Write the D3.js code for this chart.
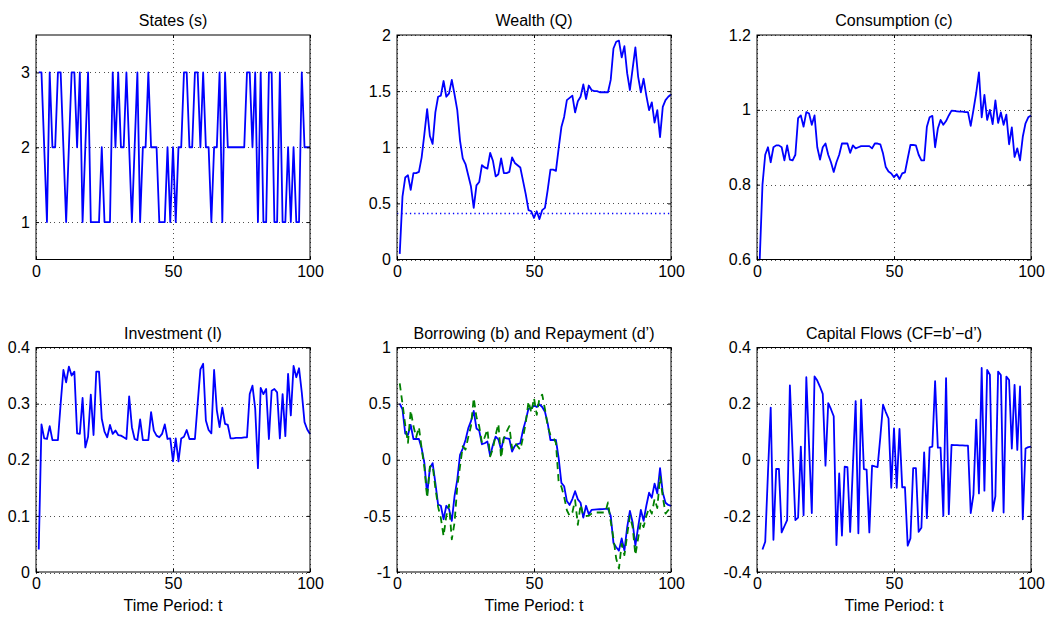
<!DOCTYPE html>
<html>
<head>
<meta charset="utf-8">
<script src="https://cdn.jsdelivr.net/npm/d3@7"></script>
<style>
  body { margin: 0; background: #fff; }
  svg { font-family: "Liberation Sans", Arial, sans-serif; }
</style>
</head>
<body>
<svg id="chart" width="1052" height="621"></svg>
<script>
// periods t = 1..100
const PERIODS = d3.range(1, 101);

const STATES = [
  3, 3, 2, 1, 3, 2, 2, 3, 3, 2, 1, 2, 3, 3, 2, 3, 1, 2, 3, 1,
  1, 1, 1, 2, 1, 1, 1, 3, 2, 3, 2, 2, 3, 2, 1, 2, 3, 1, 2, 2,
  3, 2, 2, 2, 1, 1, 1, 2, 1, 2, 1, 2, 2, 3, 3, 2, 2, 3, 3, 2,
  3, 2, 2, 1, 2, 2, 3, 1, 3, 2, 2, 2, 2, 2, 2, 2, 3, 3, 2, 3,
  1, 3, 1, 1, 3, 3, 1, 1, 3, 1, 1, 2, 1, 2, 1, 1, 3, 2, 2, 2,
];

const WEALTH = [
  0.05, 0.56, 0.73, 0.75, 0.62, 0.77, 0.77, 0.78, 0.91, 1.12,
  1.34, 1.1, 1.03, 1.31, 1.45, 1.46, 1.59, 1.45, 1.48, 1.6,
  1.47, 1.33, 1.06, 0.9, 0.85, 0.75, 0.65, 0.46, 0.66, 0.69,
  0.84, 0.82, 0.81, 0.95, 0.88, 0.74, 0.76, 0.9, 0.77, 0.77,
  0.78, 0.91, 0.86, 0.84, 0.82, 0.7, 0.58, 0.44, 0.43, 0.37,
  0.43, 0.36, 0.44, 0.46, 0.62, 0.8, 0.8, 0.79, 0.99, 1.18,
  1.27, 1.42, 1.44, 1.46, 1.31, 1.41, 1.45, 1.56, 1.43, 1.55,
  1.51, 1.5, 1.5, 1.49, 1.49, 1.49, 1.49, 1.6, 1.88, 1.94,
  1.95, 1.8, 1.9, 1.66, 1.51, 1.7, 1.89, 1.63, 1.49, 1.61,
  1.46, 1.33, 1.4, 1.22, 1.33, 1.09, 1.36, 1.42, 1.45, 1.47,
];
const WEALTH_LEVEL = 0.415;

const CONSUMPTION = [
  0.6, 0.8, 0.88, 0.9, 0.86, 0.9, 0.905, 0.905, 0.9, 0.865,
  0.905, 0.867, 0.865, 0.88, 0.978, 0.985, 0.955, 0.994, 0.99, 0.96,
  0.985, 0.9, 0.867, 0.9, 0.91, 0.88, 0.86, 0.834, 0.86, 0.88,
  0.91, 0.91, 0.91, 0.885, 0.905, 0.897, 0.9, 0.903, 0.903, 0.903,
  0.903, 0.897, 0.91, 0.91, 0.908, 0.883, 0.847, 0.835, 0.83, 0.82,
  0.828, 0.815, 0.83, 0.833, 0.87, 0.906, 0.906, 0.905, 0.88, 0.865,
  0.865, 0.955, 0.98, 0.984, 0.9, 0.95, 0.973, 0.96, 0.97, 0.985,
  0.998, 0.997, 0.996, 0.995, 0.995, 0.994, 0.994, 0.957, 1.0, 1.045,
  1.1, 0.98, 1.04, 0.973, 1.0, 0.962, 1.025, 0.965, 0.993, 0.96,
  0.987, 0.908, 0.953, 0.874, 0.897, 0.865, 0.928, 0.964, 0.98, 0.985,
];

const INVESTMENT = [
  0.04, 0.263, 0.238, 0.237, 0.26, 0.235, 0.235, 0.235, 0.3, 0.36,
  0.338, 0.366, 0.35, 0.357, 0.247, 0.246, 0.31, 0.222, 0.241, 0.316,
  0.244, 0.357, 0.357, 0.273, 0.25, 0.24, 0.262, 0.246, 0.252, 0.244,
  0.243, 0.24, 0.237, 0.313, 0.258, 0.237, 0.235, 0.272, 0.235, 0.235,
  0.235, 0.285, 0.252, 0.243, 0.24, 0.246, 0.263, 0.237, 0.238, 0.197,
  0.238, 0.197, 0.238, 0.241, 0.253, 0.237, 0.237, 0.237, 0.3, 0.361,
  0.371, 0.27, 0.253, 0.247, 0.36, 0.288, 0.258, 0.293, 0.264, 0.262,
  0.238, 0.238, 0.239, 0.239, 0.239, 0.24, 0.24, 0.317, 0.332, 0.291,
  0.185, 0.328, 0.317, 0.326, 0.237, 0.323, 0.326, 0.32, 0.238, 0.317,
  0.242, 0.353, 0.279, 0.367, 0.347, 0.363, 0.32, 0.267, 0.254, 0.246,
];

const BORROWING = [
  0.5, 0.45, 0.235, 0.22, 0.31, 0.185, 0.185, 0.185, 0.1, -0.03,
  -0.31, -0.074, -0.03, -0.206, -0.4, -0.41, -0.53, -0.41, -0.44, -0.545,
  -0.324, -0.177, 0.044, 0.1, 0.176, 0.279, 0.344, 0.435, 0.279, 0.259,
  0.138, 0.147, 0.162, 0.035, 0.132, 0.206, 0.182, 0.088, 0.197, 0.191,
  0.185, 0.073, 0.123, 0.14, 0.147, 0.265, 0.353, 0.456, 0.456, 0.485,
  0.47, 0.494, 0.47, 0.427, 0.324, 0.176, 0.176, 0.176, 0.015, -0.206,
  -0.236, -0.368, -0.403, -0.35, -0.28, -0.353, -0.383, -0.515, -0.41, -0.485,
  -0.447, -0.445, -0.443, -0.441, -0.439, -0.437, -0.435, -0.5, -0.741, -0.78,
  -0.81, -0.7, -0.81, -0.603, -0.456, -0.559, -0.765, -0.6, -0.447, -0.544,
  -0.41, -0.294, -0.338, -0.212, -0.3, -0.074, -0.294, -0.383, -0.403, -0.41,
];

const REPAYMENT = [
  0.68, 0.5, 0.31, 0.15, 0.44, 0.3, 0.2, 0.29, 0.1, -0.07,
  -0.34, -0.06, -0.05, -0.25, -0.42, -0.52, -0.68, -0.5, -0.4, -0.71,
  -0.56, -0.24, -0.06, 0.12, 0.09, 0.2, 0.3, 0.55, 0.38, 0.3,
  0.15, 0.2, 0.27, 0.03, 0.1, 0.22, 0.32, 0.015, 0.19, 0.25,
  0.3, 0.1, 0.15, 0.12, 0.09, 0.2, 0.33, 0.52, 0.42, 0.55,
  0.4, 0.55, 0.58, 0.45, 0.3, 0.22, 0.2, 0.15, -0.2, -0.24,
  -0.33, -0.45, -0.5, -0.47, -0.36, -0.58, -0.4, -0.5, -0.5, -0.5,
  -0.48, -0.47, -0.47, -0.47, -0.47, -0.47, -0.38, -0.55, -0.7, -0.88,
  -0.97, -0.75, -0.85, -0.67, -0.5, -0.6, -0.85, -0.7, -0.55, -0.6,
  -0.5, -0.43, -0.48, -0.35, -0.43, -0.15, -0.33, -0.48, -0.45, -0.42,
];

// first period has no capital flow
const CAPITAL_FLOWS = [
  null, -0.32, -0.292, -0.047, 0.186, -0.285, -0.033, -0.033, -0.259, -0.237,
  -0.215, 0.265, 0.025, -0.215, -0.206, 0.047, -0.198, 0.294, 0.05, -0.19,
  0.297, 0.282, 0.26, 0.235, -0.021, 0.202, 0.18, 0.155, -0.304, -0.049,
  -0.27, -0.025, -0.026, -0.257, -0.024, 0.209, -0.262, 0.214, -0.033, -0.035,
  -0.259, -0.021, -0.024, -0.026, 0.08, 0.196, 0.17, 0.147, -0.1, 0.112,
  -0.1, 0.11, -0.098, -0.098, -0.306, -0.28, -0.03, -0.03, -0.257, -0.242,
  0.026, -0.208, 0.044, 0.047, 0.28, 0.043, 0.043, -0.2, 0.291, -0.194,
  0.053, 0.052, 0.052, 0.051, 0.051, 0.05, 0.05, -0.19, -0.124, 0.143,
  -0.12, 0.327, -0.11, 0.32, 0.303, -0.183, -0.13, 0.314, 0.302, -0.188,
  0.296, 0.284, 0.04, 0.267, 0.035, 0.261, -0.212, 0.04, 0.045, 0.047,
];

const X_TICKS = [0, 50, 100];
const X_LABEL = "Time Period: t";

const COL_X = [36, 397, 757];
const ROW_Y = [35, 347.5];
const PW = 274;
const PH = 224.5;
const FONT = 16;

const BLUE = "#0000ff";
const GREEN = "#008000";

const PANELS = [
  { title: "States (s)", row: 0, col: 0, domain: [0.5, 3.5], ticks: [1, 2, 3],
    series: [{ values: STATES, color: BLUE }] },
  { title: "Wealth (Q)", row: 0, col: 1, domain: [0, 2], ticks: [0, 0.5, 1, 1.5, 2],
    series: [{ values: WEALTH, color: BLUE }], level: WEALTH_LEVEL },
  { title: "Consumption (c)", row: 0, col: 2, domain: [0.6, 1.2], ticks: [0.6, 0.8, 1, 1.2],
    series: [{ values: CONSUMPTION, color: BLUE }] },
  { title: "Investment (I)", row: 1, col: 0, domain: [0, 0.4], ticks: [0, 0.1, 0.2, 0.3, 0.4],
    series: [{ values: INVESTMENT, color: BLUE }] },
  { title: "Borrowing (b) and Repayment (d’)", row: 1, col: 1, domain: [-1, 1], ticks: [-1, -0.5, 0, 0.5, 1],
    series: [{ values: BORROWING, color: BLUE }, { values: REPAYMENT, color: GREEN, dash: "7,5" }] },
  { title: "Capital Flows (CF=b’−d’)", row: 1, col: 2, domain: [-0.4, 0.4], ticks: [-0.4, -0.2, 0, 0.2, 0.4],
    series: [{ values: CAPITAL_FLOWS, color: BLUE }] },
];

const svg = d3.select("#chart");
const fmt = (v) => String(+v.toFixed(2));

PANELS.forEach((p) => {
  const left = COL_X[p.col];
  const top = ROW_Y[p.row];
  const g = svg.append("g").attr("transform", "translate(" + left + "," + top + ")");

  const x = d3.scaleLinear().domain([0, 100]).range([0, PW]);
  const y = d3.scaleLinear().domain(p.domain).range([PH, 0]);

  // dotted grid
  const grid = g.append("g")
    .attr("stroke", "#222")
    .attr("stroke-width", 0.8)
    .attr("stroke-dasharray", "1,3.5")
    .attr("shape-rendering", "crispEdges");
  grid.selectAll(".gx").data(X_TICKS).join("line")
    .attr("x1", (d) => Math.round(x(d)) + 0.5).attr("x2", (d) => Math.round(x(d)) + 0.5)
    .attr("y1", 0).attr("y2", PH);
  grid.selectAll(".gy").data(p.ticks).join("line")
    .attr("x1", 0).attr("x2", PW)
    .attr("y1", (d) => Math.round(y(d)) + 0.5).attr("y2", (d) => Math.round(y(d)) + 0.5);

  if (p.level !== undefined) {
    g.append("line")
      .attr("x1", 0).attr("x2", PW)
      .attr("y1", Math.round(y(p.level)) + 0.5).attr("y2", Math.round(y(p.level)) + 0.5)
      .attr("stroke", BLUE)
      .attr("stroke-width", 1.3)
      .attr("stroke-dasharray", "1.3,3");
  }

  // series
  p.series.forEach((s) => {
    const line = d3.line()
      .defined((d) => d[1] !== null)
      .x((d) => x(d[0]))
      .y((d) => y(d[1]));
    g.append("path")
      .datum(PERIODS.map((t, i) => [t, s.values[i]]))
      .attr("fill", "none")
      .attr("stroke", s.color)
      .attr("stroke-width", 1.8)
      .attr("stroke-linejoin", "round")
      .attr("stroke-dasharray", s.dash || null)
      .attr("d", line);
  });

  // axes, ticks pointing inwards on all four sides
  const axB = g.append("g").attr("transform", "translate(0," + PH + ")")
    .call(d3.axisBottom(x).tickValues(X_TICKS).tickFormat(fmt).tickSizeInner(-3).tickSizeOuter(0).tickPadding(6));
  const axT = g.append("g")
    .call(d3.axisTop(x).tickValues(X_TICKS).tickFormat("").tickSizeInner(-3).tickSizeOuter(0));
  const axL = g.append("g")
    .call(d3.axisLeft(y).tickValues(p.ticks).tickFormat(fmt).tickSizeInner(-3).tickSizeOuter(0).tickPadding(6));
  const axR = g.append("g").attr("transform", "translate(" + PW + ",0)")
    .call(d3.axisRight(y).tickValues(p.ticks).tickFormat("").tickSizeInner(-3).tickSizeOuter(0));
  [axB, axT, axL, axR].forEach((a) => {
    a.select(".domain").remove();
    a.selectAll("text").attr("font-size", FONT).attr("font-family", null).attr("fill", "#000");
    a.selectAll("line").attr("stroke", "#000");
  });

  g.append("rect")
    .attr("width", PW).attr("height", PH)
    .attr("fill", "none").attr("stroke", "#000").attr("stroke-width", 1);

  g.append("text")
    .attr("x", PW / 2).attr("y", -9)
    .attr("text-anchor", "middle")
    .attr("font-size", FONT)
    .text(p.title);

  if (p.row === 1) {
    g.append("text")
      .attr("x", PW / 2).attr("y", PH + 39)
      .attr("text-anchor", "middle")
      .attr("font-size", FONT)
      .text(X_LABEL);
  }
});
</script>
</body>
</html>
